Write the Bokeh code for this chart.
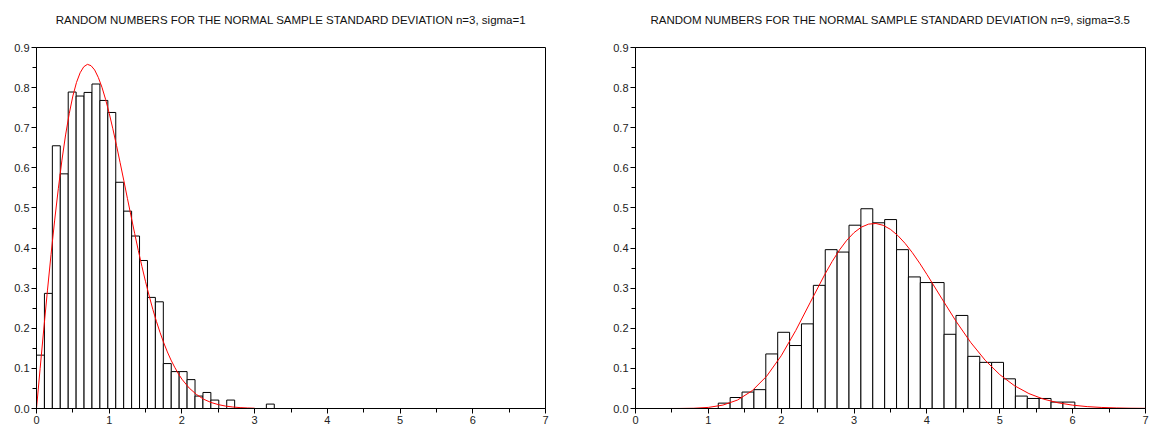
from bokeh.plotting import figure
from bokeh.models import FixedTicker, PrintfTickFormatter, Range1d, ColumnDataSource, Title
from bokeh.layouts import row
from bokeh.embed import file_html
from bokeh.resources import INLINE
import numpy as np

# ---- data ----
TITLE_LEFT = "RANDOM NUMBERS FOR THE NORMAL SAMPLE STANDARD DEVIATION n=3, sigma=1"
TITLE_RIGHT = "RANDOM NUMBERS FOR THE NORMAL SAMPLE STANDARD DEVIATION n=9, sigma=3.5"

left_range = [0.0, 3.27]
left_density = [0.133, 0.287, 0.655, 0.585, 0.789, 0.779, 0.788, 0.809, 0.768, 0.738,
                0.564, 0.492, 0.430, 0.369, 0.277, 0.266, 0.112, 0.092, 0.092, 0.072,
                0.031, 0.040, 0.021, 0.0, 0.021, 0.0, 0.0, 0.0, 0.0, 0.011]
left_curve_x = [0.0, 0.05, 0.1, 0.15, 0.2, 0.25, 0.3, 0.35, 0.4, 0.45, 0.5, 0.55, 0.6, 0.65,
                0.7, 0.75, 0.8, 0.85, 0.9, 0.95, 1.0, 1.05, 1.1, 1.15, 1.2, 1.25, 1.3, 1.35,
                1.4, 1.45, 1.5, 1.55, 1.6, 1.65, 1.7, 1.75, 1.8, 1.85, 1.9, 1.95, 2.0,
                2.1, 2.2, 2.3, 2.4, 2.5, 2.6, 2.7, 2.8, 2.9, 3.0]
left_curve_y = [0.0, 0.0998, 0.198, 0.2933, 0.384, 0.4697, 0.548, 0.6193, 0.682, 0.7350,
                0.779, 0.8129, 0.837, 0.8520, 0.858, 0.8547, 0.844, 0.8254, 0.801, 0.7706,
                0.736, 0.6973, 0.656, 0.6129, 0.569, 0.5240, 0.480, 0.4364, 0.394, 0.3542,
                0.316, 0.2805, 0.247, 0.2168, 0.189, 0.1637, 0.141, 0.1207, 0.103, 0.0870,
                0.073, 0.051, 0.035, 0.023, 0.015, 0.0097, 0.0060, 0.0037, 0.0022, 0.0013,
                0.0007]

right_range = [1.136, 6.03]
right_density = [0.0134, 0.0274, 0.041, 0.047, 0.136, 0.190, 0.157, 0.211, 0.307, 0.396,
                 0.390, 0.457, 0.498, 0.463, 0.471, 0.396, 0.328, 0.314, 0.314, 0.185,
                 0.232, 0.130, 0.115, 0.115, 0.074, 0.031, 0.025, 0.025, 0.016, 0.016]
right_curve_x = [0.0, 0.2, 0.4, 0.6, 0.8, 1.0, 1.2, 1.4, 1.6, 1.8, 2.0, 2.2, 2.4, 2.6, 2.7,
                 2.8, 2.9, 3.0, 3.1, 3.2, 3.3, 3.4, 3.5, 3.6, 3.7, 3.8, 3.9, 4.0, 4.2, 4.4,
                 4.6, 4.8, 5.0, 5.2, 5.4, 5.6, 5.8, 6.0, 6.2, 6.4, 6.6, 6.8, 7.0]
right_curve_y = [0.0, 0.0, 0.0, 0.0001, 0.0006, 0.0027, 0.0085, 0.0211, 0.0441, 0.0805,
                 0.1314, 0.1946, 0.2650, 0.3348, 0.3667, 0.3953, 0.4195, 0.4386, 0.4522,
                 0.4597, 0.4612, 0.4567, 0.4465, 0.4313, 0.4117, 0.3885, 0.3623, 0.3342,
                 0.2753, 0.2174, 0.1649, 0.1202, 0.0844, 0.0570, 0.0372, 0.0234, 0.0142,
                 0.0083, 0.0047, 0.0026, 0.0014, 0.0007, 0.0004]

x_ticks = [0, 1, 2, 3, 4, 5, 6, 7]
y_ticks = [0.0, 0.1, 0.2, 0.3, 0.4, 0.5, 0.6, 0.7, 0.8, 0.9]

FONT = "Liberation Sans"


def make_plot(title, rng, density, cx, cy, width, bl, br):
    p = figure(width=width, height=428, output_backend="svg", toolbar_location=None,
               x_range=Range1d(0, 7), y_range=Range1d(0, 0.9),
               min_border_left=bl, min_border_right=br, min_border_top=47,
               min_border_bottom=20, title=None)
    # blank spacer next to the frame, then the real title above it
    p.add_layout(Title(text=" ", text_font=FONT, text_font_size="11.5px",
                       standoff=8), "above")
    p.add_layout(Title(text=title, align="center", text_font=FONT,
                       text_font_size="11.5px", text_font_style="normal",
                       text_color="#111111", standoff=0), "above")
    p.grid.visible = False
    p.background_fill_color = "white"
    p.border_fill_color = "white"
    p.outline_line_color = "black"
    p.outline_line_alpha = 1.0
    p.outline_line_width = 1

    edges = np.linspace(rng[0], rng[1], len(density) + 1)
    src = ColumnDataSource(dict(left=edges[:-1], right=edges[1:],
                                top=density, bottom=[0.0] * len(density)))
    p.quad(left="left", right="right", top="top", bottom="bottom", source=src,
           fill_color="white", line_color="black", line_width=1)
    p.line(cx, cy, line_color="red", line_width=1)

    minor_x = [i + 0.5 for i in x_ticks[:-1]]
    minor_y = [round(v + 0.05, 2) for v in y_ticks[:-1]]
    p.xaxis.ticker = FixedTicker(ticks=x_ticks, minor_ticks=minor_x)
    p.yaxis.ticker = FixedTicker(ticks=y_ticks, minor_ticks=minor_y)
    p.yaxis.formatter = PrintfTickFormatter(format="%.1f")
    p.xaxis.formatter = PrintfTickFormatter(format="%d")
    for ax in (p.xaxis, p.yaxis):
        ax.axis_line_color = "black"
        ax.major_tick_line_color = "black"
        ax.minor_tick_line_color = "black"
        ax.major_tick_in = 0
        ax.minor_tick_in = 0
        ax.major_tick_out = 5
        ax.minor_tick_out = 4
        ax.major_label_text_font = FONT
        ax.major_label_text_font_size = "11px"
        ax.major_label_text_color = "#222222"
        ax.major_label_standoff = 2
    return p


p1 = make_plot(TITLE_LEFT, left_range, left_density, left_curve_x, left_curve_y, 590, 36, 45)
p2 = make_plot(TITLE_RIGHT, right_range, right_density, right_curve_x, right_curve_y, 559, 45, 4)

layout = row(p1, p2)
open("out.html", "w").write(file_html(layout, INLINE))
